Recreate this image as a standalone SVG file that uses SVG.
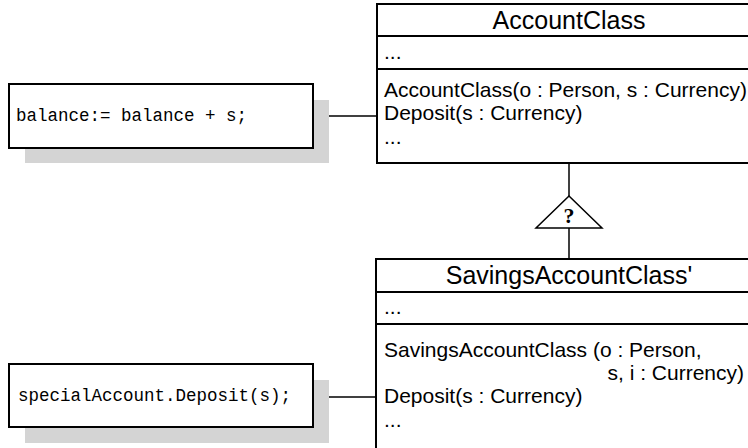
<svg xmlns="http://www.w3.org/2000/svg" width="748" height="448" viewBox="0 0 748 448">
  <style>
    .box { fill: #fff; stroke: #000; stroke-width: 2; }
    .shadow { fill: #d4d4d4; }
    .sep { stroke: #000; stroke-width: 2; }
    .line { stroke: #000; stroke-width: 1.5; fill: none; }
    .title { font-family: "Liberation Sans", Arial, sans-serif; font-size: 25px; fill: #000; }
    .body { font-family: "Liberation Sans", Arial, sans-serif; font-size: 21px; fill: #000; }
    .code { font-family: "Liberation Mono", "Courier New", monospace; font-size: 17.5px; fill: #000; }
    .mark { font-family: "Liberation Serif", "Times New Roman", serif; font-size: 22px; font-weight: bold; fill: #000; }
  </style>

  <!-- connectors -->
  <g id="connectors">
    <line class="line" x1="313" y1="116" x2="377" y2="116"/>
    <line class="line" x1="313" y1="397" x2="376" y2="397"/>
    <line class="line" x1="569" y1="163" x2="569" y2="196"/>
    <line class="line" x1="569" y1="228" x2="569" y2="260"/>
    <polygon class="line" points="569,196 602,228 536,228" style="fill:#fff"/>
    <text class="mark" x="569" y="223" text-anchor="middle">?</text>
  </g>

  <!-- note: method body -->
  <g id="note-balance">
    <rect class="shadow" x="25" y="100" width="304" height="63"/>
    <rect class="box" x="9" y="84" width="304" height="64"/>
    <text class="code" x="16" y="121">balance:= balance + s;</text>
  </g>

  <!-- note: call site -->
  <g id="note-call">
    <rect class="shadow" x="25" y="380" width="304" height="63"/>
    <rect class="box" x="9" y="364" width="304" height="63"/>
    <text class="code" x="18" y="401">specialAccount.Deposit(s);</text>
  </g>

  <!-- base class -->
  <g id="account-class">
    <rect class="box" x="377" y="4" width="380" height="159"/>
    <line class="sep" x1="377" y1="36" x2="757" y2="36"/>
    <line class="sep" x1="377" y1="69" x2="757" y2="69"/>
    <text class="title" x="569" y="29" text-anchor="middle">AccountClass</text>
    <text class="body" x="384" y="59">...</text>
    <text class="body" x="384" y="97">AccountClass(o : Person, s : Currency)</text>
    <text class="body" x="384" y="120">Deposit(s : Currency)</text>
    <text class="body" x="384" y="144">...</text>
  </g>

  <!-- derived class -->
  <g id="savings-class">
    <rect class="box" x="376" y="259" width="380" height="200"/>
    <line class="sep" x1="376" y1="292" x2="756" y2="292"/>
    <line class="sep" x1="376" y1="324" x2="756" y2="324"/>
    <text class="title" x="569" y="284" text-anchor="middle">SavingsAccountClass'</text>
    <text class="body" x="384" y="314">...</text>
    <text class="body" x="384" y="357">SavingsAccountClass (o : Person,</text>
    <text class="body" x="744" y="380" text-anchor="end">s, i : Currency)</text>
    <text class="body" x="384" y="403">Deposit(s : Currency)</text>
    <text class="body" x="384" y="427">...</text>
  </g>
</svg>
